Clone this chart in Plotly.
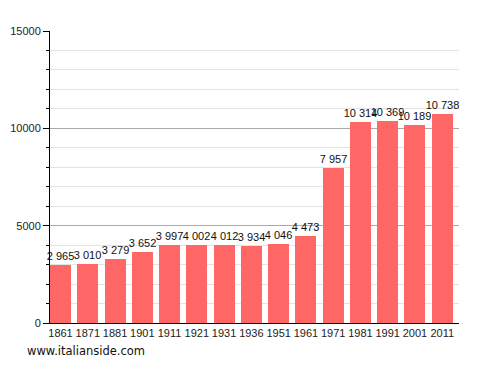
import plotly.graph_objects as go

years = ["1861", "1871", "1881", "1901", "1911", "1921", "1931", "1936",
         "1951", "1961", "1971", "1981", "1991", "2001", "2011"]
population = [2965, 3010, 3279, 3652, 3997, 4002, 4012, 3934,
              4046, 4473, 7957, 10314, 10369, 10189, 10738]
y_ticks = [0, 5000, 10000, 15000]

def fmt(v):
    return f"{v:,}".replace(",", " ")

labels = [fmt(v) for v in population]
pos = list(range(len(years)))

FONT = "Liberation Sans, Arial, sans-serif"

fig = go.Figure()
fig.add_trace(go.Bar(
    x=pos, y=population, width=0.77, offset=0,
    marker=dict(color="#ff6666", line=dict(width=0)),
    text=labels, textposition="outside", constraintext="none",
    textfont=dict(family=FONT, size=11, color="#111111"),
    cliponaxis=False, hoverinfo="skip",
))

fig.update_layout(
    width=480, height=365,
    margin=dict(l=42, r=29, t=23, b=50, autoexpand=False),
    paper_bgcolor="white", plot_bgcolor="white",
    showlegend=False,
    font=dict(family=FONT, size=11, color="#222222"),
    xaxis=dict(
        range=[0, len(years)],
        tickvals=[p + 0.385 for p in pos], ticktext=years,
        showgrid=False, showline=True, linecolor="black", linewidth=1,
        ticks="", zeroline=False, fixedrange=True, automargin=False,
        tickfont=dict(family=FONT, size=11, color="#222222"),
    ),
    yaxis=dict(
        range=[0, 15000], tickvals=y_ticks, tickformat="d",
        showgrid=True, gridcolor="#aaaaaa", gridwidth=1,
        showline=True, linecolor="black", linewidth=1,
        ticks="outside", ticklen=6, tickcolor="black",
        minor=dict(dtick=1000, showgrid=True, gridcolor="#e3e3e3",
                   ticks="outside", ticklen=3, tickcolor="black"),
        zeroline=False, fixedrange=True, automargin=False,
        tickfont=dict(family=FONT, size=11, color="#222222"),
    ),
    bargap=0,
)

fig.add_annotation(
    text="www.italianside.com", xref="paper", yref="paper",
    x=-0.062, y=-0.096, xanchor="left", yanchor="middle", showarrow=False,
    font=dict(family="DejaVu Sans, sans-serif", size=11.5, color="#111111"),
)

fig.write_html("out.html")
